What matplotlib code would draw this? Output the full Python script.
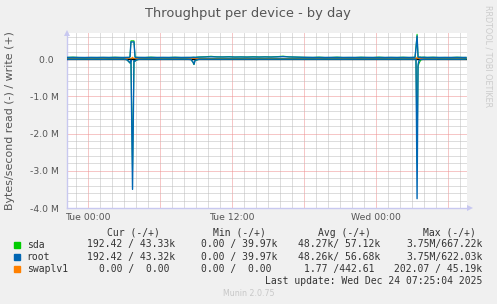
import matplotlib
matplotlib.use("Agg")
import matplotlib.pyplot as plt
from matplotlib.patches import Rectangle

# ---------------- data (hours relative to Tue 00:00, values in kB/s) ----------------
hours = [-1.75, -1.25, -0.75, -0.25, 0.25, 0.75, 1.25, 1.75, 2.25, 2.75,
         3.0, 3.25, 3.42, 3.5, 3.58, 3.71, 3.83, 3.92, 4.0, 4.25,
         4.75, 5.25, 5.75, 6.25, 6.75, 7.25, 7.75, 8.25, 8.58, 8.75,
         8.83, 8.92, 9.25, 9.75, 10.25, 10.75, 11.25, 11.75, 12.25, 12.75,
         13.25, 13.75, 14.25, 14.75, 15.25, 15.75, 16.25, 16.75, 17.25, 17.75,
         18.25, 18.75, 19.25, 19.75, 20.25, 20.75, 21.25, 21.75, 22.25, 22.75,
         23.25, 23.75, 24.25, 24.75, 25.25, 25.75, 26.25, 26.75, 27.0, 27.25,
         27.33, 27.42, 27.5, 27.58, 27.67, 27.75, 28.0, 28.25, 28.75, 29.25,
         29.75, 30.25, 30.75, 31.25, 31.5]

sda_write = [44, 52, 43, 42, 44, 43, 45, 43, 50, 43,
             43, 44, 45, 60, 490, 490, 490, 55, 50, 44,
             43, 52, 43, 44, 43, 50, 43, 44, 44, 47,
             48, 45, 56, 62, 75, 60, 58, 66, 55, 60,
             55, 64, 56, 62, 57, 66, 78, 60, 55, 50,
             46, 44, 52, 43, 44, 52, 43, 44, 43, 50,
             44, 43, 52, 43, 45, 43, 50, 43, 44, 50,
             320, 667, 60, 50, 55, 48, 52, 44, 50, 43,
             44, 43, 50, 43, 43.33]
root_write = [44, 45, 43, 42, 44, 43, 45, 43, 44, 43,
              43, 44, 45, 58, 460, 460, 460, 52, 44, 44,
              43, 44, 43, 44, 43, 45, 43, 44, 44, 47,
              48, 45, 52, 55, 60, 56, 55, 57, 54, 55,
              53, 55, 54, 56, 54, 57, 65, 56, 53, 49,
              46, 44, 45, 43, 44, 45, 43, 44, 43, 45,
              44, 43, 44, 43, 45, 43, 44, 43, 44, 46,
              300, 622, 55, 46, 48, 45, 46, 44, 45, 43,
              44, 43, 45, 43, 43.32]
sda_read = [5, 5, 4, 2, 5, 3, 6, 2, 5, 3,
            2, 20, 80, 110, 30, 3000, 40, 60, 30, 6,
            3, 4, 2, 5, 3, 6, 3, 4, 12, 90,
            150, 40, 6, 5, 5, 4, 5, 3, 4, 3,
            5, 3, 4, 4, 5, 3, 4, 4, 3, 4,
            3, 3, 5, 2, 4, 3, 5, 3, 4, 3,
            4, 3, 4, 3, 5, 2, 4, 3, 4, 8,
            15, 2800, 200, 120, 60, 20, 6, 4, 5, 3,
            4, 3, 5, 3, 0.19]
root_read = [5, 5, 4, 2, 5, 3, 6, 2, 5, 3,
             2, 18, 75, 100, 30, 3500, 40, 55, 25, 6,
             3, 4, 2, 5, 3, 6, 3, 4, 12, 80,
             140, 35, 6, 5, 5, 4, 5, 3, 4, 3,
             5, 3, 4, 4, 5, 3, 4, 4, 3, 4,
             3, 3, 5, 2, 4, 3, 5, 3, 4, 3,
             4, 3, 4, 3, 5, 2, 4, 3, 4, 8,
             15, 3750, 150, 40, 20, 10, 6, 4, 5, 3,
             4, 3, 5, 3, 0.19]
swap_write = [0, 0, 0, 0, 0, 0, 0, 0, 0, 0,
              0, 0, 0, 0, 0, 45, 0, 0, 0, 0,
              0, 0, 0, 0, 0, 0, 0, 0, 0, 0,
              0, 0, 0, 0, 0, 0, 0, 0, 0, 0,
              0, 0, 0, 0, 0, 0, 0, 0, 0, 0,
              0, 0, 0, 0, 0, 0, 0, 0, 0, 0,
              0, 0, 0, 0, 0, 0, 0, 0, 0, 0,
              0, 45, 0, 0, 0, 0, 0, 0, 0, 0,
              0, 0, 0, 0, 0]
swap_read = [0, 0, 0, 0, 0, 0, 0, 0, 0, 0,
             0, 0, 0, 0, 0, 0.2, 0, 0, 0, 0,
             0, 0, 0, 0, 0, 0, 0, 0, 0, 0,
             0, 0, 0, 0, 0, 0, 0, 0, 0, 0,
             0, 0, 0, 0, 0, 0, 0, 0, 0, 0,
             0, 0, 0, 0, 0, 0, 0, 0, 0, 0,
             0, 0, 0, 0, 0, 0, 0, 0, 0, 0,
             0, 0.2, 0, 0, 0, 0, 0, 0, 0, 0,
             0, 0, 0, 0, 0]

x_ticks = [0, 6, 12, 18, 24, 30]
x_tick_labels = ["Tue 00:00", "", "Tue 12:00", "", "Wed 00:00", ""]
y_ticks_m = [0, -1, -2, -3, -4]
y_tick_labels = ["0.0  ", "-1.0 M", "-2.0 M", "-3.0 M", "-4.0 M"]

legend_header = ["Cur (-/+)", "Min (-/+)", "Avg (-/+)", "Max (-/+)"]
legend_names = ["sda", "root", "swaplv1"]
legend_colors = ["#00CC00", "#0066B3", "#FF8000"]
legend_cur = ["192.42 / 43.33k", "192.42 / 43.32k", "0.00 /  0.00"]
legend_min = ["0.00 / 39.97k", "0.00 / 39.97k", "0.00 /  0.00"]
legend_avg = ["48.27k/ 57.12k", "48.26k/ 56.68k", "1.77 /442.61"]
legend_max = ["3.75M/667.22k", "3.75M/622.03k", "202.07 / 45.19k"]

assert all(len(s) == len(hours) for s in
           [sda_write, root_write, sda_read, root_read, swap_write, swap_read])

# ---------------- figure ----------------
W, H = 497, 304
BG = "#F0F0F0"
fig = plt.figure(figsize=(W / 100, H / 100), dpi=100, facecolor=BG)

def fx(px):
    return px / W

def fy(py):
    return 1 - py / H

ax = fig.add_axes([fx(67), fy(208), 400 / W, 175 / H], facecolor="white")

K = 1000.0
def w(vals):
    return [v * K for v in vals]
def r(vals):
    return [-v * K for v in vals]

lw = 1.0
ax.plot(hours, w(swap_write), color=legend_colors[2], lw=lw, zorder=3)
ax.plot(hours, r(swap_read), color=legend_colors[2], lw=lw, zorder=3)
ax.axhline(0, color="black", lw=1.0, zorder=4)
ax.plot(hours, w(sda_write), color=legend_colors[0], lw=0.75, zorder=5)
ax.plot(hours, r(sda_read), color=legend_colors[0], lw=0.75, zorder=5)
ax.plot(hours, w(root_write), color=legend_colors[1], lw=lw, zorder=6)
ax.plot(hours, r(root_read), color=legend_colors[1], lw=lw, zorder=6)

ax.set_xlim(-1.75, 31.58)
ax.set_ylim(-4.0e6, 0.7e6)

ax.set_xticks(x_ticks)
ax.set_xticklabels(x_tick_labels)
ax.set_xticks(list(range(-1, 32)), minor=True)
ax.set_yticks([v * 1e6 for v in y_ticks_m])
ax.set_yticklabels(y_tick_labels)
ax.set_yticks([v * 0.2e6 for v in range(-20, 4)], minor=True)

dot = (0, (1, 1))
ax.grid(which="minor", color="#BDBDBD", lw=0.72, linestyle=dot, zorder=1)
ax.grid(which="major", color="#EE8F8F", lw=0.72, linestyle=dot, zorder=2)
ax.set_axisbelow(True)

ax.tick_params(which="both", length=0)
ax.tick_params(axis="y", pad=5.5, labelsize=6.7, labelcolor="#555555")
ax.tick_params(axis="x", pad=3.5, labelsize=6.7, labelcolor="#555555")

for s in ["top", "right"]:
    ax.spines[s].set_visible(False)
for s in ["left", "bottom"]:
    ax.spines[s].set_color("#C8C8F0")
    ax.spines[s].set_linewidth(1.0)

# axis arrows
ax.plot([0], [1.0], transform=ax.transAxes, marker="^", ms=5, color="#C8C8F0",
        clip_on=False, zorder=7, markeredgewidth=0)
ax.plot([1.008], [0], transform=ax.transAxes, marker=">", ms=5, color="#C8C8F0",
        clip_on=False, zorder=7, markeredgewidth=0)

# title & labels
fig.text(fx(248), fy(13), "Throughput per device - by day", ha="center", va="center",
         fontsize=9.4, color="#555555")
fig.text(fx(10), fy(121), "Bytes/second read (-) / write (+)", rotation=90,
         ha="center", va="center", fontsize=7.9, color="#555555")
fig.text(fx(488), fy(56), "RRDTOOL / TOBI OETIKER", rotation=270, ha="center",
         va="center", fontsize=5.8, color="#CCCCCC")

# legend
mono = "DejaVu Sans Mono"
fs = 7.05
tc = "#333333"
header_x = [107.3, 212.7, 318.3, 422.7]
for hx, txt in zip(header_x, legend_header):
    fig.text(fx(hx), fy(232.7), txt, ha="left", va="center", family=mono,
             fontsize=fs, color=tc)

row_y = [244.5, 256.7, 268.8]
cur_x = [87.3, 87.3, 99.3]
min_x = [201, 201, 201]
avg_x = [297.7, 297.7, 304.3]
max_x = [406, 406, 394.3]
for i, name in enumerate(legend_names):
    y = row_y[i]
    fig.patches.append(Rectangle((fx(14), fy(y + 3)), 6 / W, 6 / H,
                                 transform=fig.transFigure, color=legend_colors[i]))
    fig.text(fx(26.7), fy(y), name, ha="left", va="center", family=mono, fontsize=fs, color=tc)
    fig.text(fx(cur_x[i]), fy(y), legend_cur[i], ha="left", va="center", family=mono, fontsize=fs, color=tc)
    fig.text(fx(min_x[i]), fy(y), legend_min[i], ha="left", va="center", family=mono, fontsize=fs, color=tc)
    fig.text(fx(avg_x[i]), fy(y), legend_avg[i], ha="left", va="center", family=mono, fontsize=fs, color=tc)
    fig.text(fx(max_x[i]), fy(y), legend_max[i], ha="left", va="center", family=mono, fontsize=fs, color=tc)

fig.text(fx(482.7), fy(280.8), "Last update: Wed Dec 24 07:25:04 2025", ha="right",
         va="center", family=mono, fontsize=fs, color=tc)
fig.text(fx(248.5), fy(293.3), "Munin 2.0.75", ha="center", va="center",
         fontsize=5.7, color="#C8C8C8")

fig.savefig("out.png", dpi=100, facecolor=BG)
